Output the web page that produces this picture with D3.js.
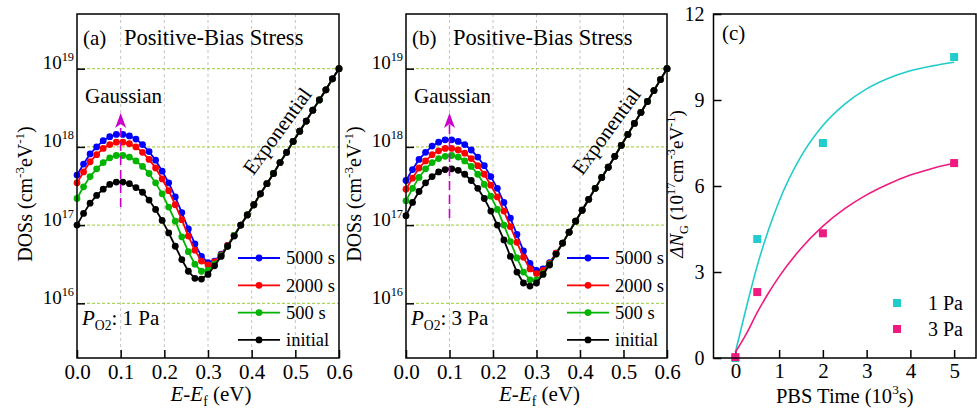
<!DOCTYPE html>
<html>
<head>
<meta charset="utf-8">
<script src="https://cdn.jsdelivr.net/npm/d3@7"></script>
<style>
  body { margin: 0; background: #fff; }
  svg { display: block; font-family: "Liberation Serif", "Times New Roman", serif; }
</style>
</head>
<body>
<svg id="chart" width="977" height="409"></svg>
<script>
// ---------- data ----------
// energy grid E - Ef (eV)
const energy = [0, 0.015, 0.03, 0.045, 0.06, 0.075, 0.09, 0.105, 0.12, 0.135, 0.15, 0.165, 0.18, 0.195,
  0.21, 0.225, 0.24, 0.255, 0.27, 0.285, 0.30, 0.315, 0.33, 0.345, 0.36, 0.375, 0.39, 0.405, 0.42,
  0.435, 0.45, 0.465, 0.48, 0.495, 0.51, 0.525, 0.54, 0.555, 0.57, 0.585, 0.60];

// panel (a), PO2 = 1 Pa : log10 DOS (cm^-3 eV^-1)
const dosA5000 = [17.64, 17.78, 17.91, 18.00, 18.08, 18.13, 18.16, 18.16, 18.14, 18.10, 18.03, 17.94, 17.83, 17.69,
  17.54, 17.36, 17.16, 16.95, 16.76, 16.60, 16.52, 16.54, 16.63, 16.74, 16.87, 17.00, 17.13, 17.26, 17.40,
  17.53, 17.66, 17.80, 17.93, 18.07, 18.20, 18.33, 18.47, 18.60, 18.73, 18.87, 19.00];
const dosA2000 = [17.54, 17.68, 17.81, 17.90, 17.98, 18.03, 18.06, 18.06, 18.04, 18.00, 17.93, 17.84, 17.73, 17.59,
  17.44, 17.26, 17.07, 16.86, 16.68, 16.54, 16.49, 16.53, 16.62, 16.74, 16.87, 17.00, 17.13, 17.26, 17.40,
  17.53, 17.66, 17.80, 17.93, 18.07, 18.20, 18.33, 18.47, 18.60, 18.73, 18.87, 19.00];
const dosA500 = [17.34, 17.49, 17.62, 17.72, 17.80, 17.86, 17.89, 17.89, 17.87, 17.82, 17.75, 17.66, 17.54, 17.40,
  17.23, 17.05, 16.85, 16.66, 16.50, 16.41, 16.42, 16.50, 16.61, 16.73, 16.87, 17.00, 17.13, 17.26, 17.40,
  17.53, 17.66, 17.80, 17.93, 18.07, 18.20, 18.33, 18.47, 18.60, 18.73, 18.87, 19.00];
const dosAInit = [17.00, 17.15, 17.28, 17.38, 17.46, 17.52, 17.55, 17.55, 17.53, 17.48, 17.42, 17.32, 17.20, 17.06,
  16.90, 16.73, 16.56, 16.41, 16.32, 16.31, 16.37, 16.48, 16.60, 16.73, 16.86, 17.00, 17.13, 17.26, 17.40,
  17.53, 17.66, 17.80, 17.93, 18.07, 18.20, 18.33, 18.47, 18.60, 18.73, 18.87, 19.00];

// panel (b), PO2 = 3 Pa
const dosB5000 = [17.57, 17.71, 17.84, 17.93, 18.01, 18.06, 18.09, 18.09, 18.07, 18.03, 17.96, 17.87, 17.76, 17.62,
  17.47, 17.29, 17.09, 16.88, 16.67, 16.51, 16.42, 16.44, 16.52, 16.64, 16.77, 16.91, 17.05, 17.19, 17.33,
  17.47, 17.61, 17.74, 17.88, 18.02, 18.16, 18.30, 18.44, 18.58, 18.72, 18.86, 19.00];
const dosB2000 = [17.46, 17.60, 17.73, 17.82, 17.90, 17.95, 17.98, 17.98, 17.96, 17.92, 17.85, 17.76, 17.65, 17.51,
  17.36, 17.18, 16.98, 16.78, 16.59, 16.44, 16.38, 16.42, 16.51, 16.64, 16.77, 16.91, 17.05, 17.19, 17.33,
  17.47, 17.61, 17.74, 17.88, 18.02, 18.16, 18.30, 18.44, 18.58, 18.72, 18.86, 19.00];
const dosB500 = [17.31, 17.47, 17.61, 17.72, 17.80, 17.85, 17.88, 17.89, 17.87, 17.82, 17.75, 17.65, 17.52, 17.37,
  17.20, 17.00, 16.79, 16.58, 16.40, 16.30, 16.30, 16.38, 16.50, 16.63, 16.77, 16.91, 17.05, 17.19, 17.33,
  17.47, 17.61, 17.74, 17.88, 18.02, 18.16, 18.30, 18.44, 18.58, 18.72, 18.86, 19.00];
const dosBInit = [17.12, 17.29, 17.43, 17.54, 17.62, 17.68, 17.71, 17.72, 17.70, 17.65, 17.57, 17.47, 17.34, 17.18,
  17.00, 16.81, 16.60, 16.40, 16.26, 16.22, 16.26, 16.37, 16.49, 16.63, 16.77, 16.91, 17.05, 17.19, 17.33,
  17.47, 17.61, 17.74, 17.88, 18.02, 18.16, 18.30, 18.44, 18.58, 18.72, 18.86, 19.00];

const seriesNames = ["5000 s", "2000 s", "500 s", "initial"];
const energyTicks = [0, 0.1, 0.2, 0.3, 0.4, 0.5, 0.6];
const dosTicks = [1e16, 1e17, 1e18, 1e19];

// panel (c): Gaussian DOS increase vs PBS time
const pbsTime = [0, 0.5, 2, 5];             // 10^3 s
const dNg1Pa = [0, 4.15, 7.5, 10.5];        // 10^17 cm^-3 eV^-1
const dNg3Pa = [0.03, 2.3, 4.35, 6.8];
const fitTime = [0, 0.25, 0.5, 0.75, 1, 1.5, 2, 2.5, 3, 3.5, 4, 4.5, 5];
const fit1Pa = [0.2, 1.76, 3.22, 4.44, 5.47, 7.03, 8.11, 8.86, 9.39, 9.76, 10.02, 10.19, 10.32];
const fit3Pa = [0.2, 0.84, 1.59, 2.25, 2.84, 3.82, 4.60, 5.21, 5.69, 6.07, 6.38, 6.61, 6.80];
const pbsTicks = [0, 1, 2, 3, 4, 5];
const dNgTicks = [0, 3, 6, 9, 12];
const pressureNames = ["1 Pa", "3 Pa"];

// ---------- styles ----------
const seriesColors = ["#0000ff", "#ff0000", "#00b400", "#000000"];
const pressureColors = ["#22cccc", "#ee1a80"];
const FS = 21;

const svg = d3.select("#chart");

// text with italic / super / subscript pieces
function rich(text, parts, size) {
  let shift = 0;
  parts.forEach(([s, kind]) => {
    const t = text.append("tspan").text(s);
    let target = 0, fs = size;
    if (kind.includes("^")) { target = -size * 0.42; fs = size * 0.65; }
    if (kind.includes("_")) { target = size * 0.24; fs = size * 0.65; }
    if (kind.includes("i")) t.attr("font-style", "italic");
    t.attr("font-size", fs).attr("dy", target - shift);
    shift = target;
  });
  return text;
}

function styleAxis(a, size) {
  a.select(".domain").remove();
  a.selectAll("line").attr("stroke", "#000").attr("stroke-width", 1.5);
  a.selectAll("text").attr("font-size", size).attr("fill", "#000")
    .attr("font-family", "Liberation Serif");
}

function dosPanel(p) {
  const g = svg.append("g");
  const x = d3.scaleLinear().domain([0, 0.6]).range([p.left, p.right]);
  const y = d3.scaleLog().domain([2e15, 5e19]).range([p.bottom, p.top]);

  // grid
  g.selectAll(".vg").data(energyTicks.slice(1, -1)).join("line")
    .attr("x1", d => x(d)).attr("x2", d => x(d))
    .attr("y1", p.top).attr("y2", p.bottom)
    .attr("stroke", "#c4c4c4").attr("stroke-width", 1).attr("stroke-dasharray", "3,3");
  g.selectAll(".hg").data(dosTicks).join("line")
    .attr("x1", p.left).attr("x2", p.right)
    .attr("y1", d => y(d)).attr("y2", d => y(d))
    .attr("stroke", "#99cc33").attr("stroke-width", 1).attr("stroke-dasharray", "3,2");

  // axes
  const xa = g.append("g").attr("transform", `translate(0,${p.bottom})`)
    .call(d3.axisBottom(x).tickValues(energyTicks).tickSize(-8).tickPadding(6).tickFormat(d3.format(".1f")));
  const ya = g.append("g").attr("transform", `translate(${p.left},0)`)
    .call(d3.axisLeft(y).tickValues(dosTicks).tickSize(-8).tickPadding(3));
  styleAxis(xa, FS);
  styleAxis(ya, 19);
  ya.selectAll("text").each(function (d) {
    const t = d3.select(this).text("");
    rich(t, [["10", ""], [String(Math.round(Math.log10(d))), "^"]], 19);
  });

  // curves (initial drawn last, on top)
  const line = d3.line().x(d => x(d[0])).y(d => y(d[1]));
  p.series.forEach((vals, k) => {
    const pts = energy.map((e, i) => [e, Math.pow(10, vals[i])]);
    g.append("path").datum(pts).attr("d", line)
      .attr("fill", "none").attr("stroke", seriesColors[k]).attr("stroke-width", 1.8);
    g.append("g").selectAll("circle").data(pts).join("circle")
      .attr("cx", d => x(d[0])).attr("cy", d => y(d[1])).attr("r", 3.4)
      .attr("fill", seriesColors[k]);
  });

  // legend
  seriesNames.forEach((name, k) => {
    const ly = 258 + k * 27.3;
    g.append("line").attr("x1", p.left + 161).attr("x2", p.left + 203)
      .attr("y1", ly).attr("y2", ly).attr("stroke", seriesColors[k]).attr("stroke-width", 1.8);
    g.append("circle").attr("cx", p.left + 182).attr("cy", ly).attr("r", 3.4).attr("fill", seriesColors[k]);
    g.append("text").attr("x", p.left + 209).attr("y", ly).attr("dy", "0.35em")
      .attr("font-size", 18.5).text(name);
  });

  // Gaussian arrow
  const ax = x(0.1);
  g.append("line").attr("x1", ax).attr("x2", ax).attr("y1", p.arrowBottom).attr("y2", 124)
    .attr("stroke", "#cc00cc").attr("stroke-width", 1.6).attr("stroke-dasharray", "9,5");
  g.append("path").attr("d", `M${ax - 5.5},128 L${ax},113 L${ax + 5.5},128 L${ax},124 Z`)
    .attr("fill", "#cc00cc");
  g.append("text").attr("x", p.left + 8).attr("y", 103).attr("font-size", 21).text("Gaussian");

  // Exponential label
  g.append("text").attr("transform", `translate(${p.left + 200},131) rotate(-54)`)
    .attr("text-anchor", "middle").attr("dy", "0.35em").attr("font-size", 21).text("Exponential");

  // titles
  g.append("text").attr("x", p.left + 6).attr("y", 45).attr("font-size", 21).text(p.tag);
  g.append("text").attr("x", p.left + 47).attr("y", 45).attr("font-size", 22.5).text("Positive-Bias Stress");
  rich(g.append("text").attr("x", p.left + 5).attr("y", 325), [["P", "i"], ["O2", "_"], [": " + p.pressure, ""]], 21);

  // axis titles
  rich(g.append("text").attr("x", (p.left + p.right) / 2 + 3).attr("y", 401).attr("text-anchor", "middle"),
    [["E", "i"], ["-", ""], ["E", "i"], ["f", "_"], [" (eV)", ""]], 21);
  rich(g.append("text").attr("transform", `translate(${p.left - 45},194) rotate(-90)`)
    .attr("text-anchor", "middle").attr("dy", "0.35em"),
    [["DOSs (cm", ""], ["-3", "^"], ["eV", ""], ["-1", "^"], [")", ""]], 20);

  // frame
  g.append("rect").attr("x", p.left).attr("y", p.top)
    .attr("width", p.right - p.left).attr("height", p.bottom - p.top)
    .attr("fill", "none").attr("stroke", "#000").attr("stroke-width", 1.5);
}

dosPanel({ left: 77, right: 339, top: 14, bottom: 358, tag: "(a)", pressure: "1 Pa",
  arrowBottom: 207, series: [dosA5000, dosA2000, dosA500, dosAInit] });
dosPanel({ left: 406, right: 667, top: 14, bottom: 358, tag: "(b)", pressure: "3 Pa",
  arrowBottom: 218, series: [dosB5000, dosB2000, dosB500, dosBInit] });

// ---------- panel (c) ----------
(function () {
  const L = 713.5, R = 976, T = 14, B = 358;
  const g = svg.append("g");
  const x = d3.scaleLinear().domain([-0.5, 5.5]).range([L, R]);
  const y = d3.scaleLinear().domain([0, 12]).range([B, T]);

  const xa = g.append("g").attr("transform", `translate(0,${B})`)
    .call(d3.axisBottom(x).tickValues(pbsTicks).tickSize(-8).tickPadding(5).tickFormat(d3.format("d")));
  const ya = g.append("g").attr("transform", `translate(${L},0)`)
    .call(d3.axisLeft(y).tickValues(dNgTicks).tickSize(-8).tickPadding(9).tickFormat(d3.format("d")));
  styleAxis(xa, FS);
  styleAxis(ya, 20);

  const line = d3.line().x(d => x(d[0])).y(d => y(d[1])).curve(d3.curveMonotoneX);
  [fit1Pa, fit3Pa].forEach((vals, k) => {
    g.append("path").datum(fitTime.map((t, i) => [t, vals[i]])).attr("d", line)
      .attr("fill", "none").attr("stroke", pressureColors[k]).attr("stroke-width", 1.6);
  });
  [dNg1Pa, dNg3Pa].forEach((vals, k) => {
    g.append("g").selectAll("rect").data(pbsTime.map((t, i) => [t, vals[i]])).join("rect")
      .attr("x", d => x(d[0]) - 4).attr("y", d => y(d[1]) - 4)
      .attr("width", 8).attr("height", 8).attr("fill", pressureColors[k]);
  });

  // legend
  pressureNames.forEach((name, k) => {
    const ly = 303 + k * 26;
    g.append("rect").attr("x", 893).attr("y", ly - 4).attr("width", 8).attr("height", 8)
      .attr("fill", pressureColors[k]);
    g.append("text").attr("x", 928).attr("y", ly).attr("dy", "0.35em").attr("font-size", 20).text(name);
  });

  g.append("text").attr("x", 722).attr("y", 40).attr("font-size", 21).text("(c)");
  rich(g.append("text").attr("x", (L + R) / 2).attr("y", 403).attr("text-anchor", "middle"),
    [["PBS Time (10", ""], ["3", "^"], ["s)", ""]], 20.5);
  rich(g.append("text").attr("transform", `translate(683,184) rotate(-90)`)
    .attr("text-anchor", "middle").attr("dy", "0.35em"),
    [["ΔN", "i"], ["G", "_"], [" (10", ""], ["17", "^"], ["cm", ""], ["-3", "^"], ["eV", ""], ["-1", "^"], [")", ""]], 19);

  g.append("rect").attr("x", L).attr("y", T).attr("width", R - L).attr("height", B - T)
    .attr("fill", "none").attr("stroke", "#000").attr("stroke-width", 1.5);
})();
</script>
</body>
</html>
